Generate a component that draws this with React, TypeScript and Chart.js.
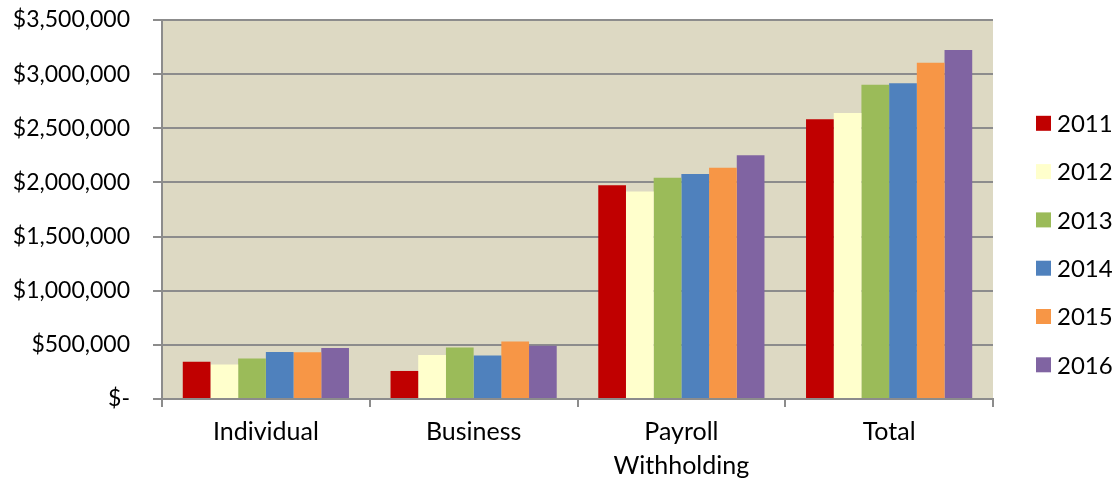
import { useEffect, useRef } from "react";
import { Chart, registerables } from "chart.js";

Chart.register(...registerables);

const categories: (string | string[])[] = ["Individual", "Business", ["Payroll", "Withholding"], "Total"];
const years = ["2011", "2012", "2013", "2014", "2015", "2016"];
const yearColors = ["#C00000", "#FFFFCC", "#9BBB59", "#4F81BD", "#F79646", "#8064A2"];

const values2011 = [345000, 259000, 1975000, 2583000];
const values2012 = [318000, 407000, 1917000, 2642000];
const values2013 = [373000, 475000, 2043000, 2901000];
const values2014 = [435000, 401000, 2077000, 2917000];
const values2015 = [432000, 531000, 2135000, 3105000];
const values2016 = [472000, 491000, 2250000, 3222000];
const seriesValues = [values2011, values2012, values2013, values2014, values2015, values2016];

const yMin = 0;
const yMax = 3500000;
const yStep = 500000;

const FONT = "Lato";

const formatDollar = (v: number) => (v === 0 ? "$-" : "$" + v.toLocaleString("en-US"));

const plotBackground = {
  id: "plotBackground",
  beforeDraw(chart: any) {
    const { ctx, chartArea } = chart;
    ctx.save();
    ctx.fillStyle = "#DDD9C3";
    ctx.fillRect(chartArea.left, chartArea.top, chartArea.right - chartArea.left, chartArea.bottom - chartArea.top);
    ctx.restore();
  },
};

const sideLegend = {
  id: "sideLegend",
  afterDraw(chart: any) {
    const { ctx } = chart;
    const datasets = chart.data.datasets;
    const boxX = 1036;
    const box = 15;
    const spacing = 48.3;
    const firstCenter = 123.3;
    ctx.save();
    ctx.font = `24px ${FONT}`;
    ctx.textBaseline = "middle";
    ctx.textAlign = "left";
    datasets.forEach((ds: any, i: number) => {
      const cy = firstCenter + i * spacing;
      ctx.fillStyle = ds.backgroundColor;
      ctx.fillRect(boxX, cy - box / 2, box, box);
      ctx.fillStyle = "#000000";
      ctx.fillText(ds.label, boxX + box + 6, cy + 1);
    });
    ctx.restore();
  },
};

export default function App() {
  const canvasRef = useRef<HTMLCanvasElement | null>(null);

  useEffect(() => {
    if (!canvasRef.current) return;
    const chart = new Chart(canvasRef.current, {
      type: "bar",
      data: {
        labels: categories as any,
        datasets: years.map((y, i) => ({
          label: y,
          data: seriesValues[i],
          backgroundColor: yearColors[i],
          borderWidth: 0,
          categoryPercentage: 0.8,
          barPercentage: 1,
        })),
      },
      options: {
        animation: false,
        responsive: false,
        maintainAspectRatio: false,
        events: [],
        layout: { padding: { left: 0, right: 122, top: 20, bottom: 0 } },
        plugins: {
          legend: { display: false },
          tooltip: { enabled: false },
          title: { display: false },
        },
        scales: {
          x: {
            grid: {
              display: true,
              drawOnChartArea: false,
              drawTicks: true,
              tickLength: 8,
              color: "#8C8C8C",
              lineWidth: 2,
              offset: true,
            },
            border: { display: true, color: "#8C8C8C", width: 2 },
            ticks: {
              color: "#000000",
              font: { family: FONT, size: 25, lineHeight: 1.35 },
              padding: 8,
              maxRotation: 0,
              autoSkip: false,
            },
            afterFit(scale: any) {
              scale.height = 80;
            },
          },
          y: {
            min: yMin,
            max: yMax,
            grid: {
              color: "#8C8C8C",
              lineWidth: 2,
              drawTicks: true,
              tickLength: 9,
            },
            border: { display: true, color: "#8C8C8C", width: 2 },
            ticks: {
              stepSize: yStep,
              color: "#000000",
              font: { family: FONT, size: 23 },
              padding: 23,
              callback: (v: any) => formatDollar(Number(v)),
            },
            afterFit(scale: any) {
              scale.width = 162;
              scale.paddingTop = 0;
              scale.paddingBottom = 0;
            },
          },
        },
      },
      plugins: [plotBackground, sideLegend],
    });
    return () => chart.destroy();
  }, []);

  return (
    <div style={{ position: "fixed", left: 0, top: 0, width: 1115, height: 479, background: "#FFFFFF" }}>
      <canvas ref={canvasRef} width={1115} height={479} style={{ width: 1115, height: 479 }} />
    </div>
  );
}
